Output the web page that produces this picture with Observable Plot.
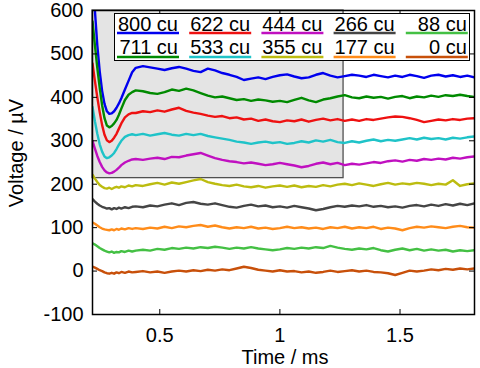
<!DOCTYPE html>
<html>
<head>
<meta charset="utf-8">
<script src="https://cdn.jsdelivr.net/npm/d3@7"></script>
<script src="https://cdn.jsdelivr.net/npm/@observablehq/plot@0.6"></script>
<style>
  html, body { margin: 0; padding: 0; background: #fff; }
  #chart svg { display: block; }
</style>
</head>
<body>
<div id="chart"></div>
<script>
// Sample times (ms): fine steps through the initial transient, then every 0.03 ms
const time = [0.22,0.23,0.24,0.25,0.26,0.27,0.28,0.29,0.30,0.31,0.32,0.33,0.34,0.355,0.37,0.385,
  0.40,0.43,0.46,0.49,0.52,0.55,0.58,0.61,0.64,0.67,0.70,0.73,0.76,0.79,0.82,0.85,0.88,0.91,0.94,0.97,
  1.00,1.03,1.06,1.09,1.12,1.15,1.18,1.21,1.24,1.27,1.30,1.33,1.36,1.39,1.42,1.45,1.48,1.51,1.54,1.57,
  1.60,1.63,1.66,1.69,1.72,1.75,1.78,1.81];

// Recorded voltage traces (µV), one per dose
const cu800 = [700,600,520,460,415,385,368,362,363,368,376,386,398,418,438,458,
  468,472,469,466,463,467,470,466,461,458,466,462,456,452,447,440,443,446,442,447,
  451,453,448,444,446,452,456,450,446,449,452,450,447,452,449,446,450,447,452,449,
  445,450,452,448,451,447,450,446];
const cu711 = [575,520,468,422,382,352,335,331,334,340,348,360,374,394,406,412,
  416,414,410,408,412,418,415,420,416,410,404,400,402,398,394,396,392,395,393,390,
  392,389,394,399,393,389,395,398,402,405,400,398,402,399,401,397,401,403,398,402,
  400,404,401,405,403,406,403,401];
const cu622 = [478,438,400,366,336,314,301,297,300,307,316,328,340,354,361,364,
  364,368,366,370,367,372,376,369,365,362,358,355,357,352,354,349,351,346,349,345,
  343,347,345,349,344,348,351,347,350,346,349,346,350,348,351,354,356,355,352,348,
  343,346,349,347,350,348,351,352];
const cu533 = [378,345,316,292,275,264,260,262,266,272,281,291,300,309,313,315,
  313,316,312,315,318,314,312,316,313,316,311,308,305,302,298,296,293,296,298,295,
  297,293,295,299,296,301,298,302,297,295,299,296,300,303,299,302,300,303,306,303,
  307,304,306,303,307,305,308,310];
const cu444 = [300,282,265,251,240,232,227,225,226,229,233,238,244,250,254,257,
  258,256,259,261,258,263,262,266,269,272,266,260,256,253,251,248,250,247,244,246,
  249,246,243,239,242,247,250,246,249,244,247,245,248,251,249,253,255,252,256,254,
  258,256,259,257,261,259,262,264];
const cu355 = [222,213,205,198,194,191,190,192,189,192,194,192,195,193,197,195,
  198,196,200,203,199,204,201,205,209,212,205,201,198,196,199,195,193,196,192,195,
  197,194,197,193,196,194,198,195,199,201,198,202,199,196,200,203,199,202,200,203,
  201,198,201,199,209,196,200,202];
const cu266 = [166,160,155,151,148,146,144,145,142,145,143,146,144,147,145,148,
  149,147,151,149,153,156,152,157,159,155,153,156,152,148,146,150,153,149,151,147,
  149,146,150,147,144,140,143,147,150,148,151,149,152,148,150,147,149,146,150,152,
  149,153,150,154,151,155,152,156];
const cu177 = [112,109,105,101,98,96,95,94,96,94,97,95,98,96,99,97,
  99,97,100,98,102,99,103,101,104,106,102,105,101,98,101,99,102,98,100,97,
  99,102,99,101,98,100,97,101,99,102,98,101,99,102,97,100,98,94,99,102,
  100,103,101,99,102,104,101,100];
const cu88 = [64,61,57,53,50,47,45,43,45,42,44,43,46,44,47,45,
  47,49,47,51,49,53,51,54,52,55,53,56,54,51,54,52,55,52,50,48,
  50,53,51,54,52,55,53,58,54,51,49,52,50,53,48,45,49,52,48,51,
  47,50,47,49,45,48,46,48];
const cu0 = [10,8,5,2,0,-3,-5,-6,-4,-6,-3,-5,-2,-4,-1,-3,
  -2,0,-3,-1,-4,-1,1,-1,2,0,3,1,4,2,6,10,7,3,1,-1,
  2,-1,0,-3,-1,-4,-2,1,-2,0,2,-1,1,-2,-3,-5,-9,-4,1,-1,
  1,4,2,5,3,6,4,6];

const seriesNames = ["800 cu","711 cu","622 cu","533 cu","444 cu","355 cu","266 cu","177 cu","88 cu","0 cu"];
const seriesValues = [cu800, cu711, cu622, cu533, cu444, cu355, cu266, cu177, cu88, cu0];
const seriesColors = ["#0000ee","#008a00","#ee1111","#1fc3c8","#c010c0","#bcbc10","#454545","#ff8c1a","#44c044","#c8500a"];

const xTicks = [0.5, 1, 1.5];
const yTicks = [-100, 0, 100, 200, 300, 400, 500, 600];

// Shaded region behind the upper traces (time ms, voltage µV)
const shadeTime = [0.22, 1.265];
const shadeVoltage = [214, 600];

const rows = seriesNames.flatMap((name, i) =>
  time.map((t, j) => ({t, v: seriesValues[i][j], s: name})));

const W = 480, H = 368;
const mL = 92, mR = 6, mT = 10, mB = 54;
const fw = W - mL - mR, fh = H - mT - mB;
const font = "'Liberation Sans', Arial, Helvetica, sans-serif";
const fs = 20;

const chart = Plot.plot({
  width: W, height: H,
  marginLeft: mL, marginRight: mR, marginTop: mT, marginBottom: mB,
  style: {fontFamily: font, fontSize: fs + "px", color: "#000", background: "#fff"},
  x: {domain: [0.22, 1.81]},
  y: {domain: [-100, 600]},
  color: {domain: seriesNames, range: seriesColors},
  marks: [
    Plot.rect([{x1: shadeTime[0], x2: shadeTime[1], y1: shadeVoltage[0], y2: shadeVoltage[1]}],
      {x1: "x1", x2: "x2", y1: "y1", y2: "y2", fill: "#e4e4e4", stroke: "#505050", strokeWidth: 1.3}),
    Plot.line(rows, {x: "t", y: "v", z: "s", stroke: "s", strokeWidth: 2.4, clip: true}),
    Plot.frame({stroke: "#000", strokeWidth: 1.5}),
    Plot.tickX(xTicks, {x: d => d, insetTop: fh - 5, stroke: "#000"}),
    Plot.tickX(xTicks, {x: d => d, insetBottom: fh - 5, stroke: "#000"}),
    Plot.tickY(yTicks, {y: d => d, insetRight: fw - 5, stroke: "#000"}),
    Plot.tickY(yTicks, {y: d => d, insetLeft: fw - 5, stroke: "#000"}),
    Plot.axisX(xTicks, {tickSize: 0, tickPadding: 13, tickFormat: d => String(d), label: null, fontSize: fs}),
    Plot.axisY(yTicks, {tickSize: 0, tickPadding: 9, tickFormat: d => String(d), label: null, fontSize: fs})
  ]
});

const svg = d3.select(chart);

// Axis titles
svg.append("text")
  .attr("x", 285).attr("y", 364)
  .attr("text-anchor", "middle")
  .attr("font-family", font).attr("font-size", fs).attr("fill", "#000")
  .text("Time / ms");
svg.append("text")
  .attr("transform", "translate(23,153) rotate(-90)")
  .attr("text-anchor", "middle")
  .attr("font-family", font).attr("font-size", fs).attr("fill", "#000")
  .text("Voltage / µV");

// Legend: two rows, five columns, colour swatch drawn under each label
const lg = svg.append("g");
lg.append("rect")
  .attr("x", 114.5).attr("y", 13.5).attr("width", 355).attr("height", 47)
  .attr("fill", "#fff").attr("stroke", "#000").attr("stroke-width", 1);
seriesNames.forEach((name, i) => {
  const col = Math.floor(i / 2), row = i % 2;
  const right = 178 + col * 72.2;
  lg.append("line")
    .attr("x1", right - 61).attr("x2", right + 1)
    .attr("y1", row ? 57 : 33).attr("y2", row ? 57 : 33)
    .attr("stroke", seriesColors[i]).attr("stroke-width", 2.4);
  lg.append("text")
    .attr("x", right).attr("y", row ? 54 : 30.5)
    .attr("text-anchor", "end")
    .attr("font-family", font).attr("font-size", fs).attr("fill", "#000")
    .text(name);
});

document.getElementById("chart").append(chart);
</script>
</body>
</html>
